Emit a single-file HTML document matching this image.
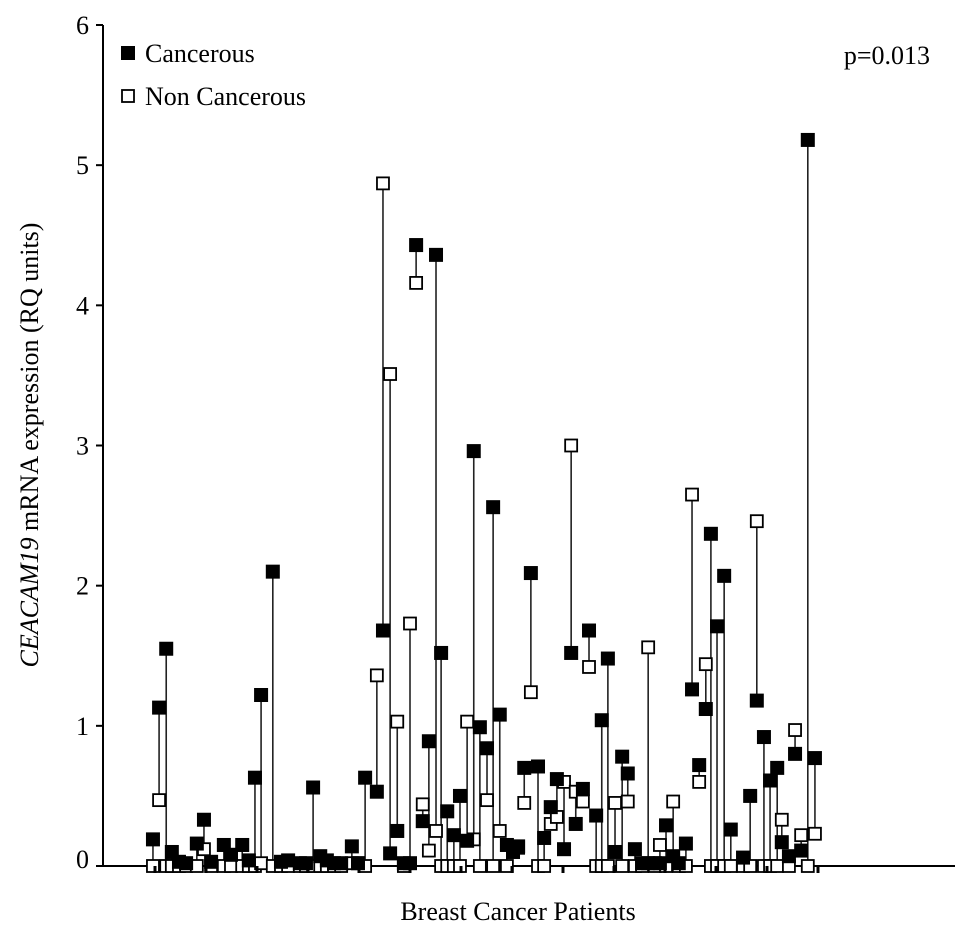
<!DOCTYPE html>
<html><head><meta charset="utf-8"><style>
body{margin:0;background:#fff}
text{font-family:"Liberation Serif",serif;fill:#000}
</style></head><body>
<svg id="chart" width="969" height="933" xmlns="http://www.w3.org/2000/svg"></svg>
<script>
// patient positions (category axis units), cancerous values, non-cancerous values
const patientPos=[-0.4,0.8,2.2,3.3,4.7,6.1,8.2,9.6,11,13.5,14.9,17.1,18.4,19.6,20.8,23.1,24.7,26.1,28.4,29.6,31,32.4,33.7,35.1,36.5,38.6,39.8,41.2,43.5,44.7,46.1,47.5,48.8,50,51.2,52.5,53.7,55.1,56.1,57.3,58.6,59.8,61.2,62.5,63.7,65.1,66.3,67.6,69,70.2,71.2,72.4,73.7,75.1,76.3,77.6,78.8,80.2,81.6,82.5,83.9,85.1,86.5,87.6,88.8,90.2,91.6,92.7,94.1,95.5,96.7,98,99,100.2,101.6,102.7,104.1,105.3,106.7,108,109,110.2,111.6,112.9,115.3,116.7,118,119.4,120.6,122,122.9,124.3,125.5,126.7,128,129.4];
const cancerous=[0.19,1.13,1.55,0.1,0.03,0.02,0.16,0.33,0.03,0.15,0.08,0.15,0.04,0.63,1.22,2.1,0.03,0.04,0.02,0.02,0.56,0.07,0.04,0.02,0.02,0.14,0.02,0.63,0.53,1.68,0.09,0.25,0.02,0.02,4.43,0.32,0.89,4.36,1.52,0.39,0.22,0.5,0.18,2.96,0.99,0.84,2.56,1.08,0.15,0.1,0.14,0.7,2.09,0.71,0.2,0.42,0.62,0.12,1.52,0.3,0.55,1.68,0.36,1.04,1.48,0.1,0.78,0.66,0.12,0.02,0.02,0.02,0.02,0.29,0.07,0.02,0.16,1.26,0.72,1.12,2.37,1.71,2.07,0.26,0.06,0.5,1.18,0.92,0.61,0.7,0.17,0.07,0.8,0.11,5.18,0.77];
const nonCancerous=[0,0.47,0,0,0,0,0,0.12,0,0,0,0,0,0,0.02,0,0,0,0,0,0,0,0,0,0,0.02,0.02,0,1.36,4.87,3.51,1.03,0,1.73,4.16,0.44,0.11,0.25,0,0,0,0,1.03,0.19,0,0.47,0,0.25,0,0.14,0.13,0.45,1.24,0,0,0.3,0.35,0.6,3.0,0.53,0.46,1.42,0,0,0,0.45,0,0.46,0,0,1.56,0,0.15,0,0.46,0,0,2.65,0.6,1.44,0,0,0,0,0,0,2.46,0,0,0,0.33,0,0.97,0.22,0,0.23];
const yTicks=[0,1,2,3,4,5,6];
const xTicks=[0,10,20,30,40,50,60,70,80,90,100,110,120,130];

const svg=document.getElementById('chart');
const NS='http://www.w3.org/2000/svg';
const X0=103,Y0=866,YT=25;
const yS=v=>Y0-(Y0-YT)*v/6;
const xS=v=>155+v*5.1;
function mk(t,a){const e=document.createElementNS(NS,t);for(const k in a)e.setAttribute(k,a[k]);svg.appendChild(e);return e;}

// axes
let ax=mk('line',{x1:X0,y1:YT,x2:X0,y2:Y0,stroke:'#000','stroke-width':2});


ax=mk('line',{x1:X0,y1:Y0,x2:955,y2:Y0,stroke:'#000','stroke-width':2});


yTicks.forEach(v=>{
  const t=mk('line',{x1:X0-7,y1:yS(v),x2:X0,y2:yS(v),stroke:'#000','stroke-width':2});
  
  
  const l=mk('text',{x:89,y:yS(v)+(v===0?2:9),'text-anchor':'end','font-size':26});
  l.textContent=v;
  
  
});
// connecting lines
patientPos.forEach((p,i)=>{
  const ln=mk('line',{x1:xS(p),y1:yS(cancerous[i]),x2:xS(p),y2:yS(nonCancerous[i]),stroke:'#222','stroke-width':1.6});
  
  
});
// non-cancerous
patientPos.forEach((p,i)=>{
  const r=mk('rect',{x:xS(p)-6,y:yS(nonCancerous[i])-6,width:12,height:12,fill:'#fff',stroke:'#000','stroke-width':1.8});
  
  
});
// cancerous
patientPos.forEach((p,i)=>{
  const r=mk('rect',{x:xS(p)-7,y:yS(cancerous[i])-7,width:14,height:14,fill:'#000'});
  
  
});
// x ticks on top
xTicks.forEach(v=>{
  const t=mk('line',{x1:xS(v),y1:Y0,x2:xS(v),y2:Y0+7,stroke:'#000','stroke-width':3});
  
  
});
</script>
<svg style="position:absolute;left:0;top:0" width="969" height="933" xmlns="http://www.w3.org/2000/svg">
  <g>
    <rect x="121" y="46" width="14" height="14" fill="#000"/>
    <text x="145" y="62" font-size="26" style="font-family:'Liberation Serif',serif">Cancerous</text>
    <rect x="122" y="90" width="12" height="12" fill="#fff" stroke="#000" stroke-width="1.8"/>
    <text x="145" y="105" font-size="26" style="font-family:'Liberation Serif',serif">Non Cancerous</text>
  </g>
  <text x="930" y="64" text-anchor="end" font-size="26" style="font-family:'Liberation Serif',serif">p=0.013</text>
  <text x="518" y="920" text-anchor="middle" font-size="26" style="font-family:'Liberation Serif',serif">Breast Cancer Patients</text>
  <text transform="translate(38,445) rotate(-90)" text-anchor="middle" font-size="26" style="font-family:'Liberation Serif',serif"><tspan font-style="italic">CEACAM19</tspan> mRNA expression (RQ units)</text>
</svg>
</body></html>
